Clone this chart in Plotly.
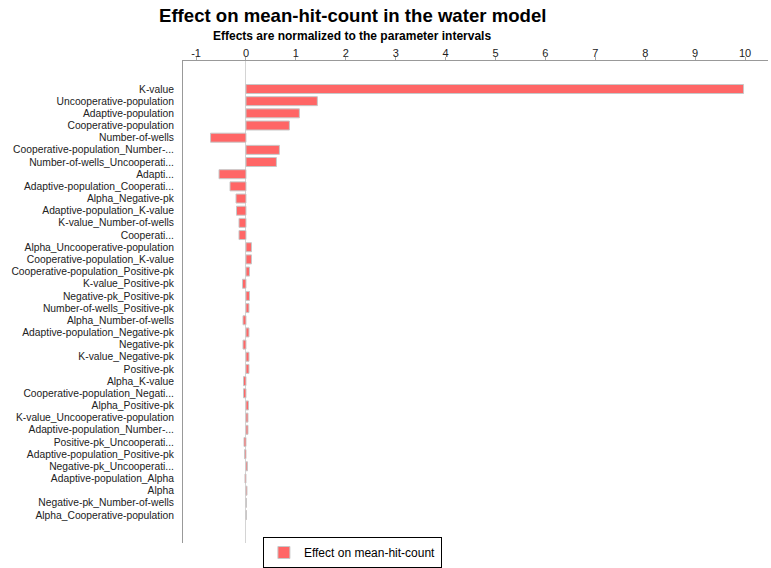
import plotly.graph_objects as go

# Parameters and interaction terms, ordered by magnitude of effect
params = [
    "K-value", "Uncooperative-population", "Adaptive-population", "Cooperative-population",
    "Number-of-wells", "Cooperative-population_Number-...", "Number-of-wells_Uncooperati...",
    "Adapti...", "Adaptive-population_Cooperati...", "Alpha_Negative-pk",
    "Adaptive-population_K-value", "K-value_Number-of-wells", "Cooperati...",
    "Alpha_Uncooperative-population", "Cooperative-population_K-value",
    "Cooperative-population_Positive-pk", "K-value_Positive-pk", "Negative-pk_Positive-pk",
    "Number-of-wells_Positive-pk", "Alpha_Number-of-wells", "Adaptive-population_Negative-pk",
    "Negative-pk", "K-value_Negative-pk", "Positive-pk", "Alpha_K-value",
    "Cooperative-population_Negati...", "Alpha_Positive-pk", "K-value_Uncooperative-population",
    "Adaptive-population_Number-...", "Positive-pk_Uncooperati...", "Adaptive-population_Positive-pk",
    "Negative-pk_Uncooperati...", "Adaptive-population_Alpha", "Alpha",
    "Negative-pk_Number-of-wells", "Alpha_Cooperative-population",
]

# Normalized effect on mean-hit-count
effects = [
    9.97, 1.43, 1.07, 0.87,
    -0.71, 0.67, 0.61,
    -0.54, -0.32, -0.20,
    -0.19, -0.14, -0.14,
    0.11, 0.11,
    0.07, -0.07, 0.07,
    0.06, -0.06, 0.06,
    -0.06, 0.06, 0.06, -0.05,
    -0.05, 0.05, 0.04,
    0.04, -0.04, -0.03,
    0.03, -0.02, 0.02,
    0.01, 0.01,
]

x_ticks = list(range(-1, 11))

font_family = "Liberation Sans, Arial, sans-serif"

fig = go.Figure(
    go.Bar(
        x=effects,
        y=params,
        orientation="h",
        name="Effect on mean-hit-count",
        marker=dict(color="rgb(255,102,102)", line=dict(color="#c8c8c8", width=1)),
    )
)

fig.update_layout(
    width=771,
    height=568,
    margin=dict(l=183, r=3, t=61, b=25, autoexpand=False),
    paper_bgcolor="white",
    plot_bgcolor="white",
    font=dict(family=font_family, size=11, color="#222"),
    bargap=0.26,
    showlegend=True,
    legend=dict(
        orientation="h",
        xref="container",
        yref="container",
        x=0.341,
        xanchor="left",
        y=0.0,
        yanchor="bottom",
        bordercolor="black",
        borderwidth=1,
        font=dict(size=12, color="black"),
        itemwidth=30,
        tracegroupgap=0,
    ),
    xaxis=dict(
        side="top",
        range=[-1.262, 10.46],
        tickvals=x_ticks,
        ticktext=[str(v) for v in x_ticks],
        ticks="outside",
        ticklen=3,
        tickcolor="#aaa",
        ticklabelstandoff=-4,
        showline=True,
        linecolor="#999",
        linewidth=1,
        showgrid=False,
        zeroline=True,
        zerolinecolor="#d4d4d4",
        zerolinewidth=1,
        tickfont=dict(size=11, color="#222"),
    ),
    yaxis=dict(
        type="category",
        categoryorder="array",
        categoryarray=params,
        tickmode="array",
        tickvals=params,
        ticktext=params,
        range=[len(params) - 1 + 2.3, -2.3],
        showline=True,
        linecolor="#999",
        linewidth=1,
        showgrid=False,
        ticks="",
        ticklabelstandoff=6,
        tickfont=dict(size=10.3, color="#222"),
    ),
    annotations=[
        dict(
            text="<b>Effect on mean-hit-count in the water model</b>",
            x=0.289, y=1.095, xref="paper", yref="paper",
            xanchor="center", yanchor="middle", showarrow=False,
            font=dict(size=18.6, color="black", family=font_family),
        ),
        dict(
            text="<b>Effects are normalized to the parameter intervals</b>",
            x=0.289, y=1.052, xref="paper", yref="paper",
            xanchor="center", yanchor="middle", showarrow=False,
            font=dict(size=12, color="black", family=font_family),
        ),
    ],
)

fig.write_html("out.html")
